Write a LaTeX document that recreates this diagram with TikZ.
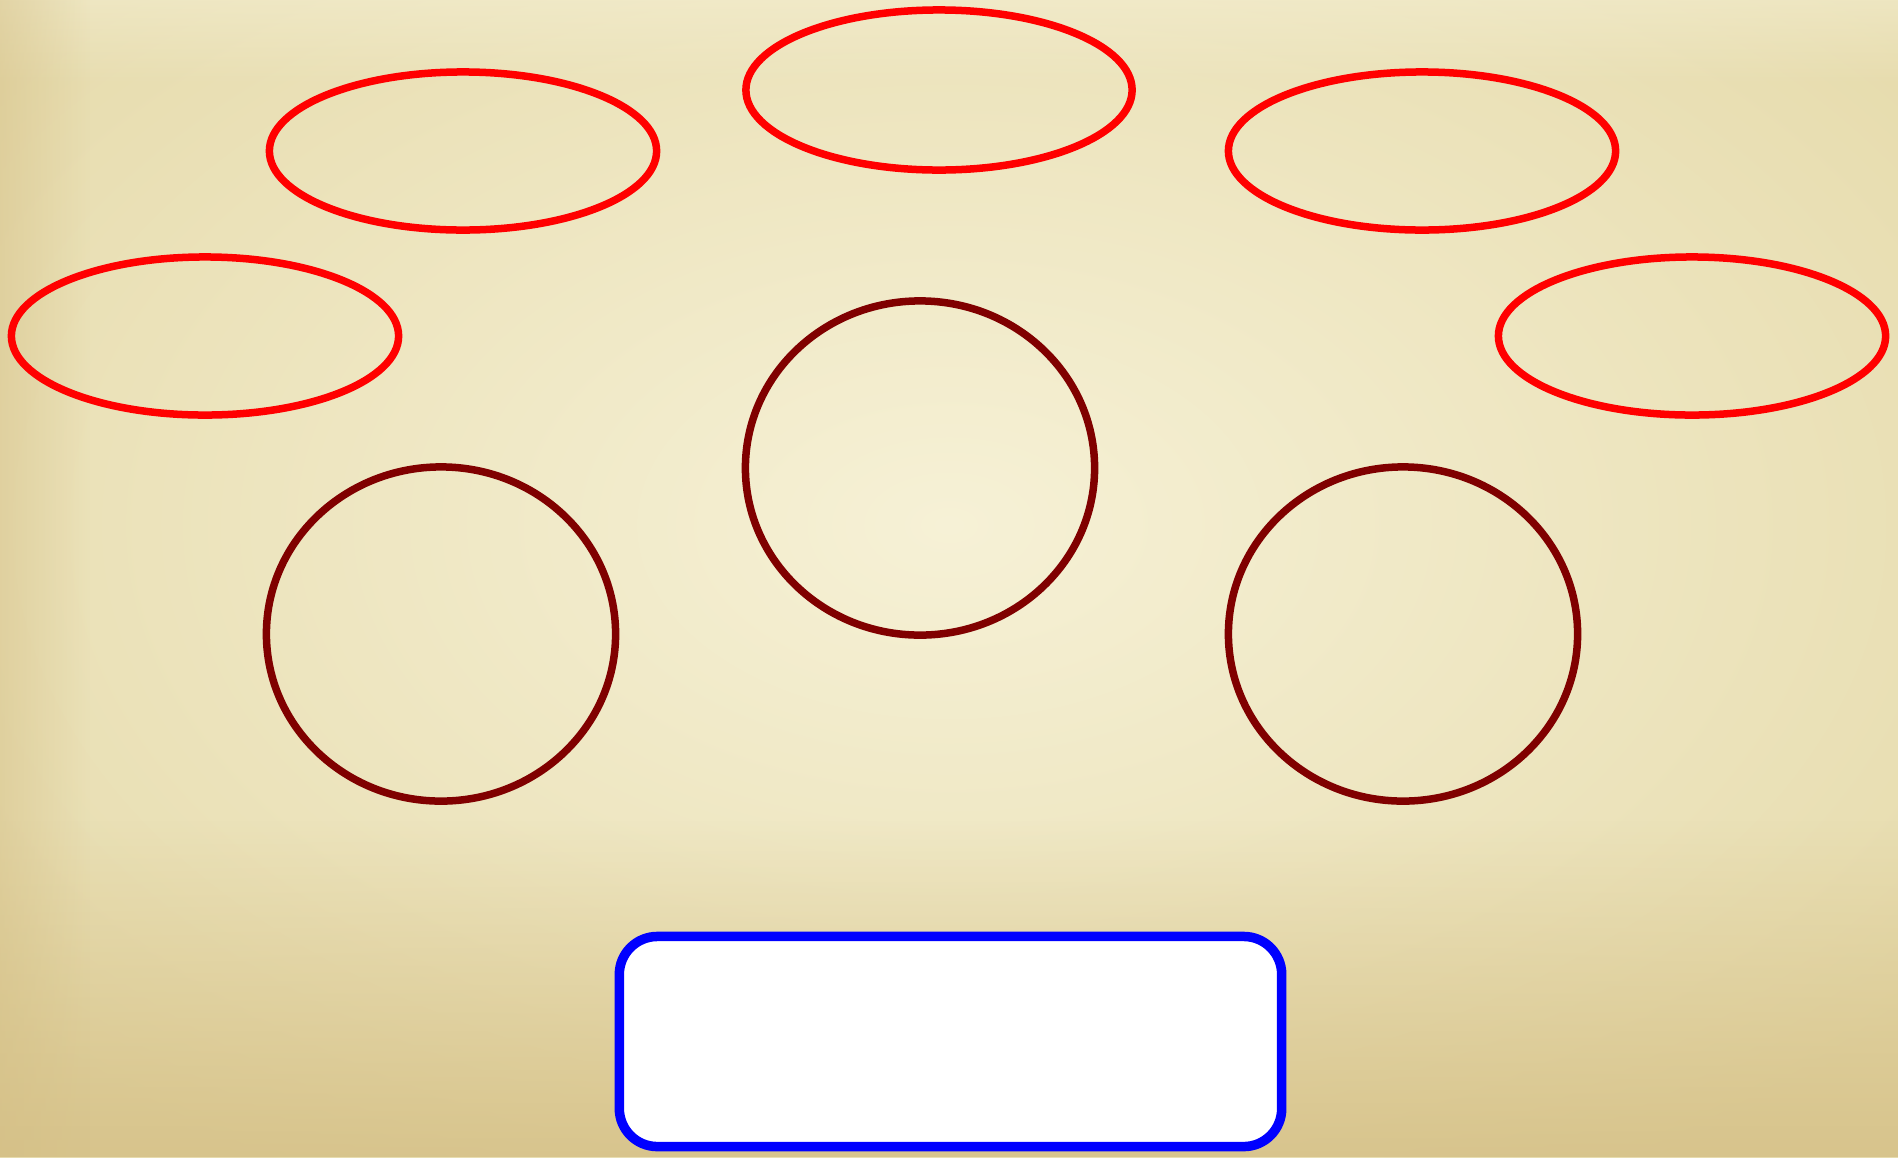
\documentclass[tikz,border=0pt]{standalone}
\usetikzlibrary{shapes.geometric,fadings}
\definecolor{parchA}{RGB}{246,241,214}
\definecolor{parchB}{RGB}{230,219,172}
\definecolor{parchC}{RGB}{212,190,132}
\definecolor{ovalred}{RGB}{255,0,0}
\definecolor{circred}{RGB}{128,0,0}
\definecolor{boxblue}{RGB}{0,0,255}
\tikzset{
  oval/.style={ellipse, draw=ovalred, line width=0.075cm, inner sep=0pt,
    minimum width=3.87cm, minimum height=1.58cm},
  ring/.style={ellipse, draw=circred, line width=0.075cm, inner sep=0pt,
    minimum width=3.49cm, minimum height=3.34cm},
  panel/.style={rectangle, draw=boxblue, fill=white, line width=0.095cm,
    rounded corners=0.38cm, inner sep=0pt,
    minimum width=6.62cm, minimum height=2.10cm}
}
\begin{document}
\begin{tikzpicture}[x=0.01cm,y=-0.01cm]
  % background
  \useasboundingbox (0,0) rectangle (1898,1157);
  \shade[inner color=parchA, outer color=parchB] (-300,-250) rectangle (2198,1300);
  \fill[parchA, opacity=0.5, path fading=south] (0,0) rectangle (1898,85);
  \fill[parchC, opacity=0.8, path fading=north] (0,820) rectangle (1898,1157);
  \fill[parchC, opacity=0.45, path fading=east] (0,0) rectangle (90,1157);
  % ovals
  \node[oval, minimum width=3.86cm, minimum height=1.60cm] (top) at (939,90) {};
  \node[oval] (upleft) at (463,151) {};
  \node[oval] (upright) at (1422,151) {};
  \node[oval] (left) at (205,336) {};
  \node[oval] (right) at (1692,336) {};
  % circles
  \node[ring] (mid) at (920,468) {};
  \node[ring] (lowleft) at (441,634) {};
  \node[ring] (lowright) at (1403,634) {};
  % box
  \node[panel] (box) at (950.5,1041.5) {};
\end{tikzpicture}
\end{document}
